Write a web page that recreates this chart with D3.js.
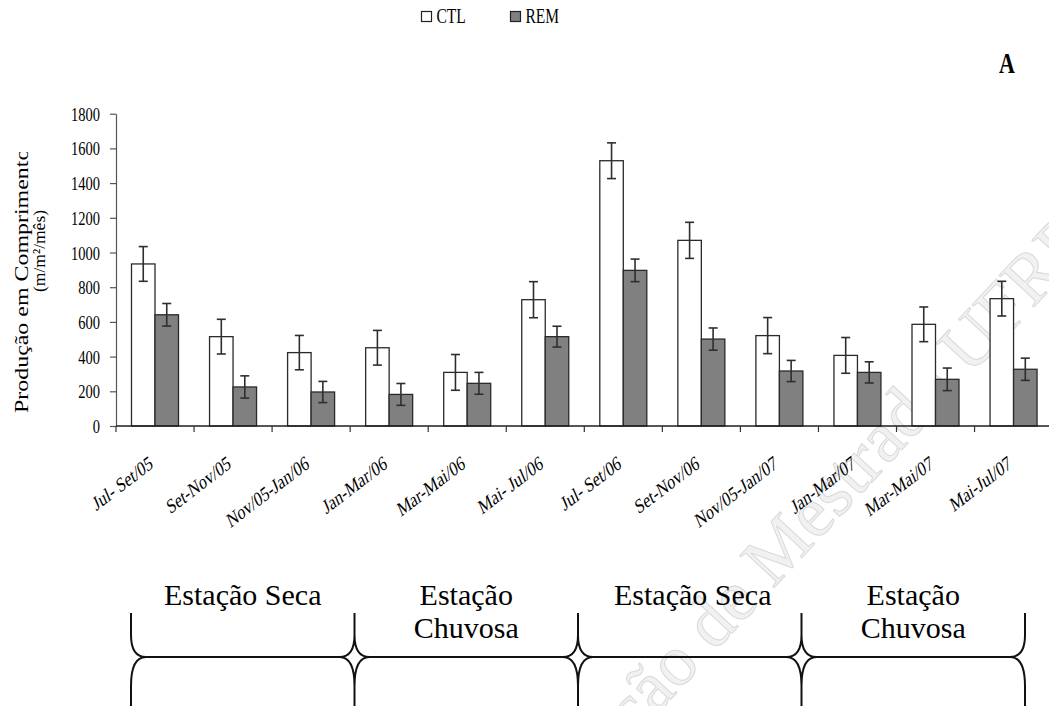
<!DOCTYPE html>
<html>
<head>
<meta charset="utf-8">
<script src="https://cdn.jsdelivr.net/npm/d3@7"></script>
<style>
  html, body { margin: 0; padding: 0; background: #fff; }
  svg { display: block; }
  text { font-family: "Liberation Serif", "Times New Roman", serif; fill: #000; }
</style>
</head>
<body>
<svg id="chart" width="1049" height="706"></svg>
<script>
// Periods (bimonthly samplings)
const categories = [
  "Jul- Set/05", "Set-Nov/05", "Nov/05-Jan/06", "Jan-Mar/06", "Mar-Mai/06", "Mai- Jul/06",
  "Jul- Set/06", "Set-Nov/06", "Nov/05-Jan/07", "Jan-Mar/07", "Mar-Mai/07", "Mai-Jul/07"
];
// Series: control and removal (m/m²/mês) with their error bars
const seriesNames = ["CTL", "REM"];
const ctlValues = [934, 515, 423, 451, 309, 728, 1529, 1070, 521, 407, 586, 734];
const ctlErrors = [100, 100, 99, 100, 103, 104, 103, 104, 104, 103, 100, 100];
const remValues = [641, 225, 196, 182, 246, 515, 897, 501, 317, 309, 269, 327];
const remErrors = [65, 64, 61, 63, 63, 60, 65, 64, 61, 61, 65, 64];
const yTicks = [0, 200, 400, 600, 800, 1000, 1200, 1400, 1600, 1800];
const yTitle = ["Produção em Comprimento", "(m/m²/mês)"];
const panelLetter = "A";
const seasonLabels = [
  ["Estação Seca"], ["Estação", "Chuvosa"], ["Estação Seca"], ["Estação", "Chuvosa"]
];
const watermark = "Dissertação de Mestrado UFRPE";

const svg = d3.select("#chart");
const SY = 1.33; // vertical stretch of the chart text
const SERIF = "'Liberation Serif', 'Times New Roman', serif";

// watermark behind everything
svg.append("text")
  .attr("transform", "translate(474,912) rotate(-47.2)")
  .attr("font-size", 72)
  .style("fill", "#f1f1f1")
  .style("stroke", "#d9d9d9")
  .style("stroke-width", 1)
  .text(watermark);

const y = d3.scaleLinear().domain([0, 1800]).range([426, 113.7]);
const x = d3.scaleBand().domain(categories).range([116, 116 + 12 * 78.05]);
const xs = d3.scaleBand().domain(seriesNames).range([15.5, 62.5]);

const rows = categories.map((c, i) => ({
  c,
  bars: [
    { s: "CTL", v: ctlValues[i], e: ctlErrors[i] },
    { s: "REM", v: remValues[i], e: remErrors[i] }
  ]
}));

const fills = { CTL: "#ffffff", REM: "#808080" };

// y axis
const yAxis = svg.append("g")
  .attr("transform", "translate(116,0)")
  .call(d3.axisLeft(y).tickValues(yTicks).tickFormat(d3.format("d")).tickSize(6).tickSizeOuter(0));
yAxis.attr("font-family", null);
yAxis.select(".domain").attr("stroke", "#555").attr("stroke-width", 1.2);
yAxis.selectAll(".tick line").attr("stroke", "#555").attr("stroke-width", 1.2);
yAxis.selectAll(".tick text")
  .attr("x", null).attr("dy", null)
  .attr("transform", "translate(-16,6.5) scale(1," + SY + ")")
  .attr("font-size", 14.5)
  .style("font-family", SERIF)
  .style("fill", "#000");

// bars
const groups = svg.append("g").selectAll("g").data(rows).join("g")
  .attr("transform", d => `translate(${x(d.c)},0)`);
groups.selectAll("rect").data(d => d.bars).join("rect")
  .attr("x", d => xs(d.s))
  .attr("width", xs.bandwidth())
  .attr("y", d => y(d.v))
  .attr("height", d => y(0) - y(d.v))
  .attr("fill", d => fills[d.s])
  .attr("stroke", "#2a2a2a")
  .attr("stroke-width", 1.3);

// error bars
const eb = groups.selectAll("g.err").data(d => d.bars).join("g").attr("class", "err")
  .attr("stroke", "#2e2e2e").attr("stroke-width", 1.6);
eb.append("line")
  .attr("x1", d => xs(d.s) + xs.bandwidth() / 2).attr("x2", d => xs(d.s) + xs.bandwidth() / 2)
  .attr("y1", d => y(d.v + d.e)).attr("y2", d => y(d.v - d.e));
eb.append("line")
  .attr("x1", d => xs(d.s) + xs.bandwidth() / 2 - 4.5).attr("x2", d => xs(d.s) + xs.bandwidth() / 2 + 4.5)
  .attr("y1", d => y(d.v + d.e)).attr("y2", d => y(d.v + d.e));
eb.append("line")
  .attr("x1", d => xs(d.s) + xs.bandwidth() / 2 - 4.5).attr("x2", d => xs(d.s) + xs.bandwidth() / 2 + 4.5)
  .attr("y1", d => y(d.v - d.e)).attr("y2", d => y(d.v - d.e));

// x axis with ticks between categories
const xAxis = svg.append("g");
xAxis.append("line")
  .attr("x1", 116).attr("x2", 1049).attr("y1", y(0)).attr("y2", y(0))
  .attr("stroke", "#1e1e1e").attr("stroke-width", 1.5);
xAxis.selectAll("line.tick").data(categories).join("line").attr("class", "tick")
  .attr("x1", d => x(d)).attr("x2", d => x(d))
  .attr("y1", y(0)).attr("y2", y(0) + 6)
  .attr("stroke", "#333").attr("stroke-width", 1.2);
xAxis.selectAll("text").data(categories).join("text")
  .attr("transform", d => `translate(${x(d) + x.bandwidth() / 2 - 1},467) scale(1,${SY}) rotate(-30)`)
  .attr("text-anchor", "end")
  .attr("font-size", 15.5)
  .text(d => d);

// y axis title (clipped at the top)
svg.append("clipPath").attr("id", "titleClip")
  .append("rect").attr("x", 0).attr("y", 152).attr("width", 100).attr("height", 400);
const yt = svg.append("g").attr("clip-path", "url(#titleClip)");
yt.append("text")
  .attr("transform", `translate(28,413) rotate(-90) scale(${SY},1)`)
  .attr("font-size", 18)
  .text(yTitle[0]);
svg.append("text")
  .attr("transform", "translate(45,251) rotate(-90)")
  .attr("text-anchor", "middle")
  .attr("font-size", 17.5)
  .text(yTitle[1]);

// legend
const legend = svg.append("g");
seriesNames.forEach((s, i) => {
  const lx = 421.5 + i * 89;
  legend.append("rect").attr("x", lx).attr("y", 11.5).attr("width", 10).attr("height", 10)
    .attr("fill", fills[s]).attr("stroke", "#222").attr("stroke-width", 1.2);
  legend.append("text")
    .attr("transform", `translate(${lx + 15},22.5) scale(1,${SY})`)
    .attr("font-size", 15.5)
    .text(s);
});

// panel letter
svg.append("text")
  .attr("transform", `translate(999,73) scale(1,${SY})`)
  .attr("font-size", 22).attr("font-weight", "bold")
  .text(panelLetter);

// season braces
const edges = [131, 354.5, 578, 801.5, 1025];
const hy = 657, rx = 15;
const brace = d3.path();
for (let k = 0; k < 4; k++) {
  const a = edges[k], b = edges[k + 1];
  // upper half
  brace.moveTo(a, 613); brace.lineTo(a, 635);
  brace.quadraticCurveTo(a, hy, a + rx, hy);
  brace.lineTo(b - rx, hy);
  brace.quadraticCurveTo(b, hy, b, 635);
  brace.lineTo(b, 613);
  // lower half
  brace.moveTo(a, 712); brace.lineTo(a, 686);
  brace.quadraticCurveTo(a, hy, a + rx, hy);
  brace.moveTo(b - rx, hy);
  brace.quadraticCurveTo(b, hy, b, 686);
  brace.lineTo(b, 712);
}
svg.append("path").attr("d", brace.toString())
  .attr("fill", "none").attr("stroke", "#111").attr("stroke-width", 2);

const seasons = svg.append("g");
seasonLabels.forEach((lines, k) => {
  const cx = (edges[k] + edges[k + 1]) / 2 + (k === 2 ? 3 : 0);
  lines.forEach((t, j) => {
    seasons.append("text")
      .attr("x", cx).attr("y", 605 + j * 33)
      .attr("text-anchor", "middle")
      .attr("font-size", 30)
      .text(t);
  });
});
</script>
</body>
</html>
